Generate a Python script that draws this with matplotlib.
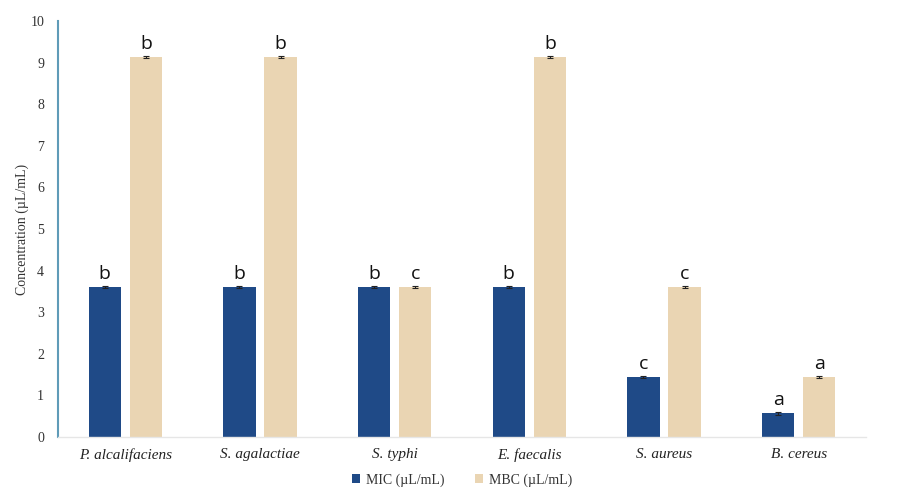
import matplotlib
matplotlib.use("Agg")
import matplotlib.pyplot as plt
import numpy as np

categories = ["P. alcalifaciens", "S. agalactiae", "S. typhi", "E. faecalis", "S. aureus", "B. cereus"]
mic_values = [3.61, 3.61, 3.61, 3.61, 1.44, 0.57]
mbc_values = [9.13, 9.13, 3.61, 9.13, 3.61, 1.44]
mic_err = [0.03, 0.03, 0.03, 0.03, 0.03, 0.03]
mbc_err = [0.03, 0.03, 0.03, 0.03, 0.03, 0.03]
mic_letters = ["b", "b", "b", "b", "c", "a"]
mbc_letters = ["b", "b", "c", "b", "c", "a"]
yticks = list(range(0, 11))

mic_color = "#1f4a87"
mbc_color = "#ead5b3"
serif = ["Liberation Serif", "DejaVu Serif"]

fig = plt.figure(figsize=(8.98, 4.88), dpi=100)
ax = fig.add_axes([58 / 898, 51 / 488, (866 - 58) / 898, (437 - 21) / 488])

x = np.arange(len(categories))
w = 0.24
off = 0.153
ax.bar(x - off, mic_values, w, color=mic_color, yerr=mic_err,
       error_kw=dict(ecolor="#222222", elinewidth=0.8, capsize=2, capthick=0.8),
       label="MIC (\u00b5L/mL)")
ax.bar(x + off, mbc_values, w, color=mbc_color, yerr=mbc_err,
       error_kw=dict(ecolor="#222222", elinewidth=0.8, capsize=2, capthick=0.8),
       label="MBC (\u00b5L/mL)")

for xi, v, t in zip(x - off, mic_values, mic_letters):
    ax.text(xi, v + 0.1, t, ha="center", va="bottom", fontsize=14,
            family=["Open Sans", "DejaVu Sans"], color="#111111")
for xi, v, t in zip(x + off, mbc_values, mbc_letters):
    ax.text(xi, v + 0.1, t, ha="center", va="bottom", fontsize=14,
            family=["Open Sans", "DejaVu Sans"], color="#111111")

ax.set_xlim(-0.5, len(categories) - 0.5)
ax.set_ylim(0, 10)
ax.set_yticks(yticks)
ax.set_yticklabels([str(t) for t in yticks], family=serif, fontsize=10, color="#333333")
ax.set_xticks(x)
ax.set_xticklabels(categories, family=serif, style="italic", fontsize=11, color="#222222")
ax.tick_params(axis="both", length=0)
ax.tick_params(axis="y", pad=10)
ax.tick_params(axis="x", pad=8)
ax.set_ylabel("Concentration (\u00b5L/mL)", family=serif, fontsize=10, color="#333333")
ax.yaxis.set_label_coords(-0.036, 0.5)

for s in ["top", "right"]:
    ax.spines[s].set_visible(False)
ax.spines["left"].set_color("#5f9bb8")
ax.spines["left"].set_linewidth(1.5)
ax.spines["bottom"].set_color("#e6e6e6")
ax.spines["bottom"].set_linewidth(1.0)

leg = ax.legend(loc="center", bbox_to_anchor=(0.5, -0.103), ncol=2, frameon=False,
                prop={"family": serif, "size": 10}, handlelength=0.6, handleheight=0.6,
                handletextpad=0.4, columnspacing=2.2, borderpad=0)
for t in leg.get_texts():
    t.set_color("#333333")

fig.savefig("out.png", dpi=100, facecolor="white")
